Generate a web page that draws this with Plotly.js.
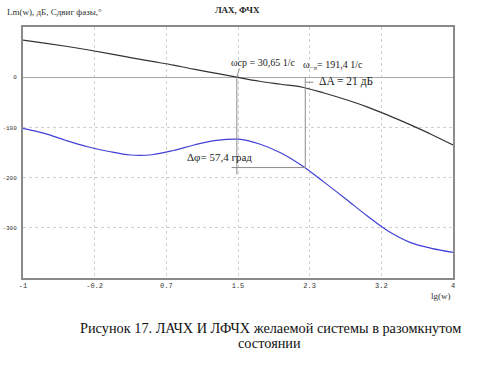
<!DOCTYPE html>
<html>
<head>
<meta charset="utf-8">
<script src="https://cdn.plot.ly/plotly-3.0.1.min.js"></script>
<style>html,body{margin:0;padding:0;background:#fff;}#chart{width:484px;height:365px;}</style>
</head>
<body>
<div id="chart"></div>
<script>
// lg(w) sample points
const lgw = [-1, -0.75, -0.5, -0.25, 0, 0.25, 0.5, 0.75, 1.0, 1.25, 1.5, 1.75, 2.0, 2.25, 2.5, 2.75, 3.0, 3.25, 3.5, 3.75, 4.0];
// ЛАХ, дБ
const gainDb = [74, 68, 61.7, 54.7, 47, 39.1, 31.5, 24.1, 15.5, 7.5, -0.5, -8, -14, -20, -31.5, -44.5, -59, -76, -94.5, -114, -135];
// ФЧХ, град
const phaseDeg = [-102, -112, -126, -138.5, -148, -155, -154.5, -146, -134.5, -126, -123.5, -133, -151, -177, -209, -242, -276, -307, -329, -341, -349];
// tick values / labels
const xTickVals = [-1, -1 + 5/6, -1 + 10/6, 1.5, -1 + 20/6, -1 + 25/6, 4];
const xTickText = ['-1', '-0.2', '0.7', '1.5', '2.3', '3.2', '4'];
const yTickVals = [-300, -200, -100, 0];
const yTickText = ['-300', '-200', '-100', '0'];
// margins
const wcp = 30.65;   // 1/c
const wpi = 191.4;   // 1/c
const dA = 21;       // дБ
const dphi = 57.4;   // град

const lgWcp = Math.log10(wcp);
const lgWpi = Math.log10(wpi);
const serif = 'Liberation Serif, Times New Roman, serif';
const gray = '#8c8c8c';

const traces = [
  {x: lgw, y: gainDb, type: 'scatter', mode: 'lines', line: {color: '#333333', width: 1.2, shape: 'spline'}, hoverinfo: 'none'},
  {x: lgw, y: phaseDeg, type: 'scatter', mode: 'lines', line: {color: '#4040d8', width: 1.2, shape: 'spline'}, hoverinfo: 'none'}
];

const shapes = [
  {type: 'line', xref: 'x', yref: 'y', x0: lgWcp, x1: lgWcp, y0: 0, y1: -180 - 14, line: {color: gray, width: 1}},
  {type: 'line', xref: 'x', yref: 'y', x0: lgWpi, x1: lgWpi, y0: 0, y1: -180, line: {color: gray, width: 1}},
  {type: 'line', xref: 'x', yref: 'y', x0: lgWcp - 0.06, x1: lgWpi, y0: -180, y1: -180, line: {color: gray, width: 1}},
  {type: 'line', xref: 'x', yref: 'y', x0: lgWpi, x1: lgWpi + 0.095, y0: -10, y1: -10, line: {color: gray, width: 1}},
  {type: 'line', xref: 'x', yref: 'y', x0: lgWcp, x1: lgWcp + 0.03, y0: 0, y1: 17, line: {color: gray, width: 1}}
];

const annotations = [
  {xref: 'paper', yref: 'paper', x: -0.041, y: 1.03, xanchor: 'left', yanchor: 'bottom', showarrow: false,
   text: 'Lm(w), дБ, Сдвиг фазы,°', font: {family: serif, size: 9, color: '#333'}},
  {xref: 'paper', yref: 'paper', x: 1.0, y: -0.045, xanchor: 'right', yanchor: 'top', showarrow: false,
   text: 'lg(w)', font: {family: serif, size: 9, color: '#333'}},
  {xref: 'x', yref: 'y', x: 1.39, y: 30, xanchor: 'left', yanchor: 'middle', showarrow: false,
   text: 'ωср = ' + String(wcp).replace('.', ',') + ' 1/с', font: {family: serif, size: 10, color: '#222'}},
  {xref: 'x', yref: 'y', x: 2.23, y: 24, xanchor: 'left', yanchor: 'middle', showarrow: false,
   text: 'ω<sub>−π</sub>= ' + String(wpi).replace('.', ',') + ' 1/с', font: {family: serif, size: 10, color: '#222'}},
  {xref: 'x', yref: 'y', x: 2.42, y: -9, xanchor: 'left', yanchor: 'middle', showarrow: false,
   text: 'ΔA = ' + dA + ' дБ', font: {family: serif, size: 11.5, color: '#222'}},
  {xref: 'x', yref: 'y', x: 0.88, y: -159, xanchor: 'left', yanchor: 'middle', showarrow: false,
   text: 'Δφ= ' + String(dphi).replace('.', ',') + ' град', font: {family: serif, size: 11, color: '#222'}},
  {xref: 'paper', yref: 'paper', x: 0.575, y: -0.198, xanchor: 'center', yanchor: 'middle', showarrow: false,
   text: 'Рисунок 17. ЛАЧХ И ЛФЧХ желаемой системы в разомкнутом', font: {family: serif, size: 14.3, color: '#111'}},
  {xref: 'paper', yref: 'paper', x: 0.574, y: -0.258, xanchor: 'center', yanchor: 'middle', showarrow: false,
   text: 'состоянии', font: {family: serif, size: 14.3, color: '#111'}}
];

const layout = {
  width: 484, height: 365,
  margin: {l: 23, r: 31, t: 27, b: 87, pad: 0},
  paper_bgcolor: '#fff', plot_bgcolor: '#fff',
  showlegend: false,
  title: {text: '<b>ЛАХ, ФЧХ</b>', x: 0.49, xanchor: 'center', y: 0.972, yanchor: 'middle',
          font: {family: serif, size: 9, color: '#222'}},
  xaxis: {range: [-1, 4], tickmode: 'array', tickvals: xTickVals, ticktext: xTickText,
          showgrid: true, gridcolor: '#d0d0d0', griddash: 'dot', gridwidth: 1,
          zeroline: false, showline: true, linecolor: '#8a8a8a', linewidth: 2, mirror: true,
          ticks: '', tickfont: {family: 'Liberation Mono, monospace', size: 7, color: '#333'}},
  yaxis: {range: [-400, 100], tickmode: 'array', tickvals: yTickVals, ticktext: yTickText,
          showgrid: true, gridcolor: '#d0d0d0', griddash: 'dot', gridwidth: 1,
          zeroline: true, zerolinecolor: '#a8a8a8', zerolinewidth: 1,
          showline: true, linecolor: '#8a8a8a', linewidth: 2, mirror: true,
          ticks: '', ticklabelstandoff: 3, tickfont: {family: 'Liberation Mono, monospace', size: 6, color: '#333'}},
  shapes: shapes,
  annotations: annotations
};

Plotly.newPlot('chart', traces, layout, {staticPlot: true, displayModeBar: false});
</script>
</body>
</html>
